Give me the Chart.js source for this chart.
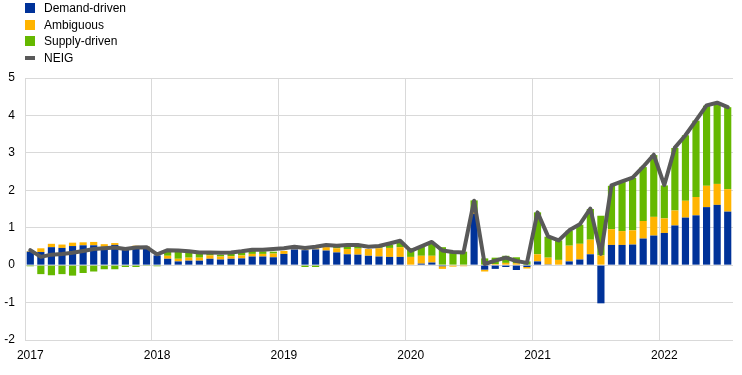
<!DOCTYPE html>
<html>
<head>
<meta charset="utf-8">
<script src="https://cdn.jsdelivr.net/npm/chart.js@4/dist/chart.umd.min.js"></script>
<style>
  html, body { margin: 0; padding: 0; background: #fff; }
  #wrap { position: relative; width: 742px; height: 375px; }
  #legend { position: absolute; left: 25px; top: 0; font-family: Arial, "Liberation Sans", sans-serif; font-size: 12px; color: #000; }
  .item { position: absolute; left: 0; height: 16px; width: 200px; white-space: nowrap; }
  .box { position: absolute; left: 0; top: 3px; width: 10px; height: 10px; }
  .lin { position: absolute; left: 0; top: 6px; width: 10px; height: 4px; }
  .txt { position: absolute; left: 19px; top: 0; line-height: 16px; }
</style>
</head>
<body>
<div id="wrap">
  <canvas id="c" width="742" height="375"></canvas>
  <div id="legend"></div>
</div>
<script>
const months = [];
for (let y = 2017; y <= 2022; y++) {
  for (let m = 1; m <= 12; m++) {
    if (y === 2022 && m > 7) break;
    months.push(y + '-' + String(m).padStart(2, '0'));
  }
}
const seriesNames = ['Demand-driven', 'Ambiguous', 'Supply-driven', 'NEIG'];

const demand = [
  0.36, 0.35, 0.48, 0.46, 0.51, 0.53, 0.53, 0.49, 0.54, 0.45, 0.48, 0.49,
  0.26, 0.17, 0.10, 0.12, 0.12, 0.17, 0.15, 0.17, 0.18, 0.23, 0.23, 0.21,
  0.30, 0.42, 0.40, 0.42, 0.39, 0.34, 0.29, 0.28, 0.25, 0.23, 0.22, 0.22,
  0.00, 0.04, 0.07, -0.03, 0.00, 0.00, 1.37, -0.12, -0.10, -0.05, -0.13, -0.05,
  0.10, 0.02, 0.00, 0.10, 0.15, 0.29, -1.02, 0.54, 0.54, 0.55, 0.71, 0.79,
  0.86, 1.06, 1.27, 1.33, 1.55, 1.61, 1.43
];
const ambiguous = [
  0.02, 0.10, 0.09, 0.09, 0.09, 0.08, 0.09, 0.07, 0.05, 0.03, 0.04, 0.01,
  0.00, 0.08, 0.07, 0.08, 0.08, 0.09, 0.08, 0.07, 0.08, 0.07, 0.07, 0.10,
  0.08, 0.03, 0.02, 0.03, 0.09, 0.11, 0.14, 0.16, 0.18, 0.22, 0.24, 0.26,
  0.22, 0.21, 0.18, -0.07, -0.04, -0.03, 0.05, -0.05, 0.03, 0.06, 0.05, -0.04,
  0.19, 0.18, 0.14, 0.42, 0.42, 0.39, 0.26, 0.42, 0.37, 0.38, 0.47, 0.50,
  0.39, 0.40, 0.45, 0.49, 0.57, 0.56, 0.60
];
const supply = [
  -0.03, -0.24, -0.27, -0.24, -0.28, -0.21, -0.17, -0.11, -0.11, -0.05, -0.05, -0.02,
  -0.03, 0.12, 0.19, 0.13, 0.11, 0.05, 0.05, 0.06, 0.08, 0.08, 0.07, 0.05,
  0.00, 0.00, -0.05, -0.05, 0.02, 0.04, 0.06, 0.06, 0.00, 0.03, 0.08, 0.12,
  0.23, 0.25, 0.32, 0.48, 0.37, 0.36, 0.31, 0.18, 0.17, 0.19, 0.16, 0.10,
  1.12, 0.56, 0.52, 0.40, 0.51, 0.82, 1.06, 1.16, 1.31, 1.40, 1.44, 1.65,
  0.88, 1.67, 1.75, 2.04, 2.14, 2.16, 2.19
];
const neig = [
  0.40, 0.22, 0.28, 0.30, 0.33, 0.38, 0.43, 0.45, 0.47, 0.43, 0.47, 0.48,
  0.29, 0.40, 0.39, 0.37, 0.34, 0.34, 0.33, 0.34, 0.37, 0.41, 0.41, 0.43,
  0.45, 0.49, 0.46, 0.49, 0.54, 0.52, 0.54, 0.54, 0.49, 0.51, 0.58, 0.65,
  0.38, 0.50, 0.62, 0.39, 0.35, 0.34, 1.72, 0.03, 0.12, 0.20, 0.11, 0.06,
  1.41, 0.77, 0.66, 0.93, 1.09, 1.51, 0.30, 2.13, 2.24, 2.34, 2.63, 2.95,
  2.14, 3.14, 3.47, 3.87, 4.27, 4.34, 4.22
];
const yTicks = [-2, -1, 0, 1, 2, 3, 4, 5];

const colors = ['#003299', '#ffb400', '#65b800', '#595959'];

// HTML legend (vertical list as in reference)
const leg = document.getElementById('legend');
const rowTops = [0, 16.5, 33, 49.5];
seriesNames.forEach((n, i) => {
  const d = document.createElement('div');
  d.className = 'item';
  d.style.top = rowTops[i] + 'px';
  const mk = document.createElement('div');
  mk.className = i === 3 ? 'lin' : 'box';
  mk.style.background = colors[i];
  const t = document.createElement('span');
  t.className = 'txt';
  t.textContent = n;
  d.appendChild(mk); d.appendChild(t);
  leg.appendChild(d);
});

const font = { family: 'Arial, "Liberation Sans", sans-serif', size: 12 };

new Chart(document.getElementById('c'), {
  type: 'bar',
  data: {
    labels: months,
    datasets: [
      { type: 'line', label: seriesNames[3], data: neig, borderColor: colors[3], backgroundColor: colors[3],
        borderWidth: 4, pointRadius: 0, tension: 0, order: 0, stack: 'neig', borderJoinStyle: 'round', borderCapStyle: 'round' },
      { label: seriesNames[0], data: demand, backgroundColor: colors[0], stack: 's', order: 1,
        categoryPercentage: 1, barPercentage: 0.68 },
      { label: seriesNames[1], data: ambiguous, backgroundColor: colors[1], stack: 's', order: 1,
        categoryPercentage: 1, barPercentage: 0.68 },
      { label: seriesNames[2], data: supply, backgroundColor: colors[2], stack: 's', order: 1,
        categoryPercentage: 1, barPercentage: 0.68 }
    ]
  },
  options: {
    responsive: false,
    animation: false,
    layout: { padding: { top: 78, right: 9, bottom: 0, left: 0 } },
    plugins: { legend: { display: false }, tooltip: { enabled: false } },
    scales: {
      x: {
        stacked: true,
        offset: true,
        afterFit: (s) => { s.height = 35; },
        grid: {
          offset: true,
          drawTicks: false,
          color: (ctx) => (ctx.index % 12 === 0 ? '#d9d9d9' : 'rgba(0,0,0,0)'),
          lineWidth: 1
        },
        border: { display: false },
        ticks: {
          autoSkip: false, maxRotation: 0, minRotation: 0, padding: 8,
          color: '#000', font: font,
          callback: function (v, i) { const m = months[i]; return m.endsWith('-01') ? m.slice(0, 4) : ''; }
        }
      },
      y: {
        stacked: true,
        min: yTicks[0], max: yTicks[yTicks.length - 1],
        afterFit: (s) => { s.width = 25; },
        afterBuildTicks: (s) => { s.ticks = yTicks.map(v => ({ value: v })); },
        grid: { color: '#d9d9d9', drawTicks: false, lineWidth: 1 },
        border: { display: false },
        ticks: { padding: 10, color: '#000', font: font }
      }
    }
  }
});
</script>
</body>
</html>
